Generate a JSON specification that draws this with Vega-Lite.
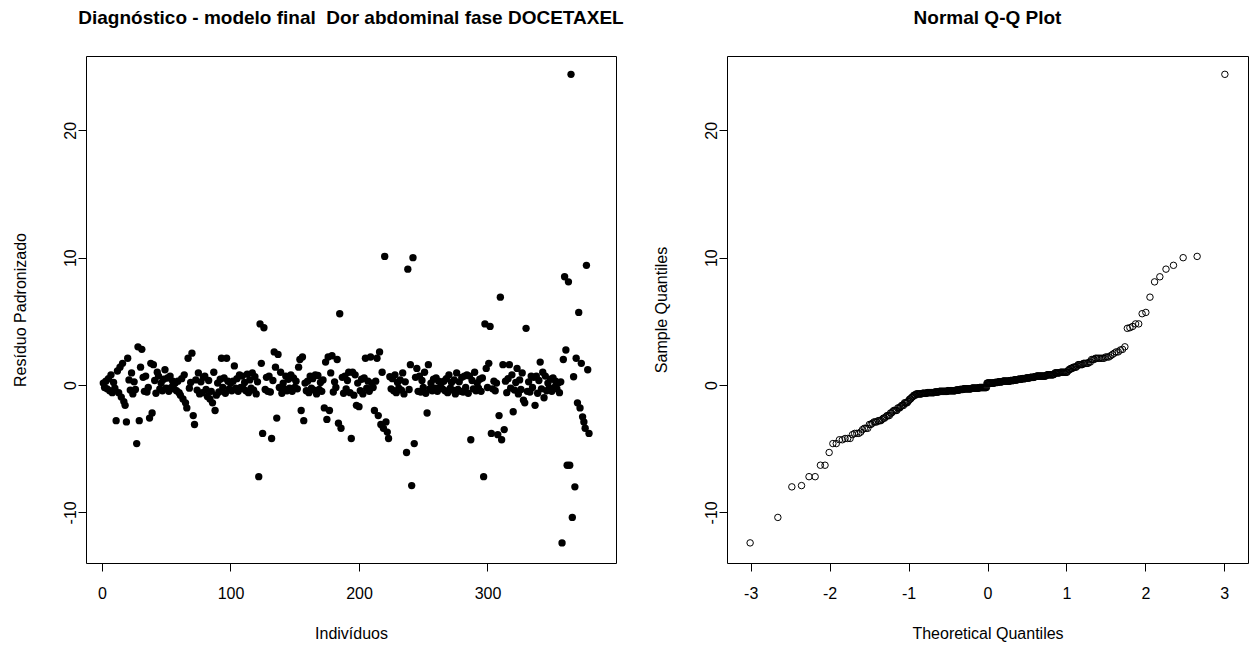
{
  "$schema": "https://vega.github.io/schema/vega-lite/v6.json",
  "background": "white",
  "autosize": {"type": "pad"},
  "padding": {"left": 11, "top": 8, "right": 0, "bottom": 0},
  "bounds": "flush",
  "spacing": 111,
  "config": {
    "font": "Liberation Sans",
    "view": {"stroke": "black", "strokeWidth": 1},
    "axis": {
      "domain": false,
      "grid": false,
      "ticks": true,
      "tickColor": "black",
      "tickSize": 8,
      "labelColor": "black",
      "labelFont": "Liberation Sans",
      "labelFontSize": 16,
      "labelFlush": false,
      "labelOverlap": false,
      "titleFont": "Liberation Sans",
      "titleFontSize": 16,
      "titleFontWeight": "normal",
      "titleColor": "black"
    },
    "title": {
      "font": "Liberation Sans",
      "fontSize": 19,
      "fontWeight": "bold",
      "color": "black",
      "anchor": "middle",
      "baseline": "alphabetic",
      "offset": 28
    }
  },
  "datasets": {
    "res": [
      {"i":1,"r":0.15},{"i":2,"r":-0.2},{"i":3,"r":0.3},{"i":4,"r":-0.3},{"i":5,"r":0.5},{"i":6,"r":-0.45},{"i":7,"r":0.8},{"i":8,"r":-0.6},{"i":9,"r":0.2},{"i":10,"r":-0.25},
      {"i":11,"r":-2.8},{"i":12,"r":1.1},{"i":13,"r":-0.6},{"i":14,"r":1.4},{"i":15,"r":-0.95},{"i":16,"r":1.7},{"i":17,"r":-1.3},{"i":18,"r":-1.6},{"i":19,"r":-2.9},{"i":20,"r":2.1},
      {"i":21,"r":0.4},{"i":22,"r":-0.4},{"i":23,"r":0.95},{"i":24,"r":-0.7},{"i":25,"r":0.25},{"i":26,"r":-0.35},{"i":27,"r":-4.6},{"i":28,"r":3.0},{"i":29,"r":-2.8},{"i":30,"r":1.4},
      {"i":31,"r":2.8},{"i":32,"r":0.6},{"i":33,"r":-0.5},{"i":34,"r":0.7},{"i":35,"r":-0.55},{"i":36,"r":-0.2},{"i":37,"r":-2.6},{"i":38,"r":1.7},{"i":39,"r":-2.2},{"i":40,"r":1.6},
      {"i":41,"r":0.35},{"i":42,"r":-0.65},{"i":43,"r":1.0},{"i":44,"r":0.7},{"i":45,"r":-0.3},{"i":46,"r":0.15},{"i":47,"r":-0.45},{"i":48,"r":0.45},{"i":49,"r":1.2},{"i":50,"r":-0.25},
      {"i":51,"r":0.55},{"i":52,"r":-0.5},{"i":53,"r":0.7},{"i":54,"r":-0.2},{"i":55,"r":0.3},{"i":56,"r":-0.3},{"i":57,"r":0.15},{"i":58,"r":-0.45},{"i":59,"r":0.3},{"i":60,"r":-0.6},
      {"i":61,"r":-0.8},{"i":62,"r":0.5},{"i":63,"r":-1.1},{"i":64,"r":0.8},{"i":65,"r":-1.4},{"i":66,"r":-1.8},{"i":67,"r":2.1},{"i":68,"r":-0.25},{"i":69,"r":0.2},{"i":70,"r":2.5},
      {"i":71,"r":-2.4},{"i":72,"r":-3.1},{"i":73,"r":0.4},{"i":74,"r":-0.4},{"i":75,"r":0.95},{"i":76,"r":-0.7},{"i":77,"r":0.25},{"i":78,"r":-0.6},{"i":79,"r":0.6},{"i":80,"r":0.7},
      {"i":81,"r":-0.35},{"i":82,"r":-0.9},{"i":83,"r":0.35},{"i":84,"r":-1.1},{"i":85,"r":-0.5},{"i":86,"r":-1.4},{"i":87,"r":1.0},{"i":88,"r":-2.0},{"i":89,"r":-0.8},{"i":90,"r":0.15},
      {"i":91,"r":-0.55},{"i":92,"r":0.45},{"i":93,"r":2.1},{"i":94,"r":-0.2},{"i":95,"r":0.55},{"i":96,"r":-0.65},{"i":97,"r":2.1},{"i":98,"r":0.3},{"i":99,"r":-0.3},{"i":100,"r":0.15},
      {"i":101,"r":-0.45},{"i":102,"r":0.3},{"i":103,"r":1.5},{"i":104,"r":-0.25},{"i":105,"r":0.5},{"i":106,"r":-0.5},{"i":107,"r":0.8},{"i":108,"r":-0.2},{"i":109,"r":0.7},{"i":110,"r":-0.3},
      {"i":111,"r":0.2},{"i":112,"r":-0.45},{"i":113,"r":0.85},{"i":114,"r":-0.6},{"i":115,"r":0.4},{"i":116,"r":-0.25},{"i":117,"r":0.95},{"i":118,"r":-0.4},{"i":119,"r":0.65},{"i":120,"r":-0.7},
      {"i":121,"r":0.25},{"i":122,"r":-7.2},{"i":123,"r":4.8},{"i":124,"r":1.7},{"i":125,"r":-3.8},{"i":126,"r":4.5},{"i":127,"r":-0.35},{"i":128,"r":0.6},{"i":129,"r":-0.5},{"i":130,"r":0.7},
      {"i":131,"r":-0.55},{"i":132,"r":-4.2},{"i":133,"r":0.35},{"i":134,"r":2.6},{"i":135,"r":1.4},{"i":136,"r":-2.6},{"i":137,"r":2.4},{"i":138,"r":-0.2},{"i":139,"r":1.0},{"i":140,"r":-0.65},
      {"i":141,"r":0.15},{"i":142,"r":-0.3},{"i":143,"r":0.7},{"i":144,"r":-0.45},{"i":145,"r":0.45},{"i":146,"r":-0.25},{"i":147,"r":0.8},{"i":148,"r":-0.5},{"i":149,"r":0.55},{"i":150,"r":-0.2},
      {"i":151,"r":0.3},{"i":152,"r":-0.3},{"i":153,"r":1.4},{"i":154,"r":2.0},{"i":155,"r":-2.0},{"i":156,"r":2.2},{"i":157,"r":-2.8},{"i":158,"r":0.15},{"i":159,"r":-0.45},{"i":160,"r":0.3},
      {"i":161,"r":-0.6},{"i":162,"r":0.7},{"i":163,"r":-0.25},{"i":164,"r":0.5},{"i":165,"r":-0.4},{"i":166,"r":0.8},{"i":167,"r":-0.7},{"i":168,"r":0.75},{"i":169,"r":-0.35},{"i":170,"r":0.2},
      {"i":171,"r":-0.5},{"i":172,"r":0.4},{"i":173,"r":-1.8},{"i":174,"r":1.8},{"i":175,"r":-2.7},{"i":176,"r":2.2},{"i":177,"r":-2.0},{"i":178,"r":0.95},{"i":179,"r":2.3},{"i":180,"r":-0.55},
      {"i":181,"r":0.25},{"i":182,"r":-0.2},{"i":183,"r":2.0},{"i":184,"r":-3.0},{"i":185,"r":5.6},{"i":186,"r":-3.4},{"i":187,"r":0.6},{"i":188,"r":-0.65},{"i":189,"r":0.7},{"i":190,"r":-0.3},
      {"i":191,"r":0.35},{"i":192,"r":1.0},{"i":193,"r":-0.6},{"i":194,"r":-4.2},{"i":195,"r":1.0},{"i":196,"r":-0.8},{"i":197,"r":0.8},{"i":198,"r":-1.6},{"i":199,"r":0.15},{"i":200,"r":-1.7},
      {"i":201,"r":-0.45},{"i":202,"r":0.45},{"i":203,"r":-0.7},{"i":204,"r":0.55},{"i":205,"r":2.1},{"i":206,"r":-0.25},{"i":207,"r":0.3},{"i":208,"r":-0.5},{"i":209,"r":2.2},{"i":210,"r":0.15},
      {"i":211,"r":-0.2},{"i":212,"r":-2.0},{"i":213,"r":0.3},{"i":214,"r":2.1},{"i":215,"r":-2.4},{"i":216,"r":2.6},{"i":217,"r":-3.1},{"i":218,"r":1.0},{"i":219,"r":-3.4},{"i":220,"r":10.1},
      {"i":221,"r":-2.9},{"i":222,"r":-3.7},{"i":223,"r":-4.2},{"i":224,"r":0.65},{"i":225,"r":-0.3},{"i":226,"r":0.5},{"i":227,"r":-0.45},{"i":228,"r":0.8},{"i":229,"r":-0.6},{"i":230,"r":0.2},
      {"i":231,"r":-0.25},{"i":232,"r":0.4},{"i":233,"r":-0.4},{"i":234,"r":0.95},{"i":235,"r":-0.7},{"i":236,"r":0.25},{"i":237,"r":-5.3},{"i":238,"r":9.1},{"i":239,"r":-0.35},{"i":240,"r":1.6},
      {"i":241,"r":-7.9},{"i":242,"r":10.0},{"i":243,"r":-4.6},{"i":244,"r":0.6},{"i":245,"r":1.3},{"i":246,"r":-0.5},{"i":247,"r":0.7},{"i":248,"r":-0.55},{"i":249,"r":0.35},{"i":250,"r":-0.2},
      {"i":251,"r":1.0},{"i":252,"r":-0.65},{"i":253,"r":-2.2},{"i":254,"r":1.6},{"i":255,"r":-0.3},{"i":256,"r":0.15},{"i":257,"r":-0.45},{"i":258,"r":0.45},{"i":259,"r":-0.25},{"i":260,"r":0.55},
      {"i":261,"r":-0.5},{"i":262,"r":0.3},{"i":263,"r":-0.2},{"i":264,"r":0.15},{"i":265,"r":-0.3},{"i":266,"r":0.3},{"i":267,"r":-0.45},{"i":268,"r":0.5},{"i":269,"r":-0.6},{"i":270,"r":0.8},
      {"i":271,"r":-0.25},{"i":272,"r":0.2},{"i":273,"r":-0.4},{"i":274,"r":0.4},{"i":275,"r":-0.7},{"i":276,"r":0.95},{"i":277,"r":-0.35},{"i":278,"r":0.25},{"i":279,"r":-0.5},{"i":280,"r":0.6},
      {"i":281,"r":-0.55},{"i":282,"r":0.7},{"i":283,"r":-0.2},{"i":284,"r":0.8},{"i":285,"r":-0.65},{"i":286,"r":0.7},{"i":287,"r":-4.3},{"i":288,"r":0.35},{"i":289,"r":-0.3},{"i":290,"r":1.0},
      {"i":291,"r":-0.45},{"i":292,"r":0.15},{"i":293,"r":-0.25},{"i":294,"r":0.45},{"i":295,"r":-0.5},{"i":296,"r":0.55},{"i":297,"r":-7.2},{"i":298,"r":4.8},{"i":299,"r":1.3},{"i":300,"r":-0.2},
      {"i":301,"r":1.7},{"i":302,"r":4.6},{"i":303,"r":-3.8},{"i":304,"r":-0.3},{"i":305,"r":0.3},{"i":306,"r":-0.45},{"i":307,"r":0.15},{"i":308,"r":-3.9},{"i":309,"r":-2.4},{"i":310,"r":6.9},
      {"i":311,"r":-4.3},{"i":312,"r":1.6},{"i":313,"r":-3.5},{"i":314,"r":0.3},{"i":315,"r":-0.6},{"i":316,"r":0.5},{"i":317,"r":1.6},{"i":318,"r":-0.25},{"i":319,"r":0.8},{"i":320,"r":-2.1},
      {"i":321,"r":-0.4},{"i":322,"r":0.2},{"i":323,"r":1.3},{"i":324,"r":-0.7},{"i":325,"r":0.4},{"i":326,"r":-0.35},{"i":327,"r":0.95},{"i":328,"r":-1.2},{"i":329,"r":-1.4},{"i":330,"r":4.45},
      {"i":331,"r":-0.5},{"i":332,"r":0.25},{"i":333,"r":-0.55},{"i":334,"r":0.7},{"i":335,"r":-0.2},{"i":336,"r":0.6},{"i":337,"r":-1.6},{"i":338,"r":0.7},{"i":339,"r":-0.65},{"i":340,"r":0.35},
      {"i":341,"r":1.8},{"i":342,"r":-0.3},{"i":343,"r":1.0},{"i":344,"r":-1.0},{"i":345,"r":0.7},{"i":346,"r":-0.45},{"i":347,"r":0.15},{"i":348,"r":-0.25},{"i":349,"r":0.45},{"i":350,"r":-0.5},
      {"i":351,"r":0.55},{"i":352,"r":-0.2},{"i":353,"r":0.3},{"i":354,"r":-0.3},{"i":355,"r":0.15},{"i":356,"r":-0.6},{"i":357,"r":0.25},{"i":358,"r":-12.4},{"i":359,"r":2.0},{"i":360,"r":8.5},
      {"i":361,"r":2.75},{"i":362,"r":-6.3},{"i":363,"r":8.1},{"i":364,"r":-6.3},{"i":365,"r":24.4},{"i":366,"r":-10.4},{"i":367,"r":0.65},{"i":368,"r":-8.0},{"i":369,"r":2.1},{"i":370,"r":-1.4},
      {"i":371,"r":5.7},{"i":372,"r":-1.8},{"i":373,"r":1.7},{"i":374,"r":-2.5},{"i":375,"r":-2.9},{"i":376,"r":-3.4},{"i":377,"r":9.4},{"i":378,"r":1.2},{"i":379,"r":-3.8}
    ]
  },
  "hconcat": [
    {
      "width": 530,
      "height": 507,
      "title": "Diagnóstico - modelo final\u00a0 Dor abdominal fase DOCETAXEL",
      "data": {"name": "res"},
      "mark": {"type": "point", "filled": true, "shape": "circle", "size": 54, "color": "black", "opacity": 1},
      "encoding": {
        "x": {
          "field": "i",
          "type": "quantitative",
          "scale": {"domain": [-12.45, 400], "nice": false, "zero": false},
          "axis": {
            "values": [0, 100, 200, 300],
            "labelExpr": "'' + datum.value",
            "labelPadding": 14,
            "title": "Indivíduos",
            "titleY": 75,
            "titleBaseline": "alphabetic"
          }
        },
        "y": {
          "field": "r",
          "type": "quantitative",
          "scale": {"domain": [-13.98, 25.84], "nice": false, "zero": false},
          "axis": {
            "values": [-10, 0, 10, 20],
            "labelExpr": "'' + datum.value",
            "labelAngle": 270,
            "labelAlign": "center",
            "labelBaseline": "alphabetic",
            "labelPadding": 3,
            "title": "Resíduo Padronizado",
            "titleAngle": 270,
            "titleAlign": "center",
            "titleBaseline": "alphabetic",
            "titleX": -61,
            "titleY": 253.5
          }
        }
      }
    },
    {
      "width": 521,
      "height": 507,
      "title": "Normal Q-Q Plot",
      "data": {"name": "res"},
      "transform": [
        {"joinaggregate": [{"op": "count", "as": "n"}]},
        {"window": [{"op": "row_number", "as": "k"}], "sort": [{"field": "r", "order": "ascending"}]},
        {"calculate": "quantileNormal((datum.k - 0.5) / datum.n)", "as": "q"}
      ],
      "mark": {"type": "point", "filled": false, "shape": "circle", "size": 42, "color": "black", "strokeWidth": 1, "opacity": 1},
      "encoding": {
        "x": {
          "field": "q",
          "type": "quantitative",
          "scale": {"domain": [-3.3, 3.3], "nice": false, "zero": false},
          "axis": {
            "values": [-3, -2, -1, 0, 1, 2, 3],
            "labelExpr": "'' + datum.value",
            "labelPadding": 14,
            "title": "Theoretical Quantiles",
            "titleY": 75,
            "titleBaseline": "alphabetic"
          }
        },
        "y": {
          "field": "r",
          "type": "quantitative",
          "scale": {"domain": [-13.98, 25.84], "nice": false, "zero": false},
          "axis": {
            "values": [-10, 0, 10, 20],
            "labelExpr": "'' + datum.value",
            "labelAngle": 270,
            "labelAlign": "center",
            "labelBaseline": "alphabetic",
            "labelPadding": 3,
            "title": "Sample Quantiles",
            "titleAngle": 270,
            "titleAlign": "center",
            "titleBaseline": "alphabetic",
            "titleX": -61,
            "titleY": 253.5
          }
        }
      }
    }
  ]
}
